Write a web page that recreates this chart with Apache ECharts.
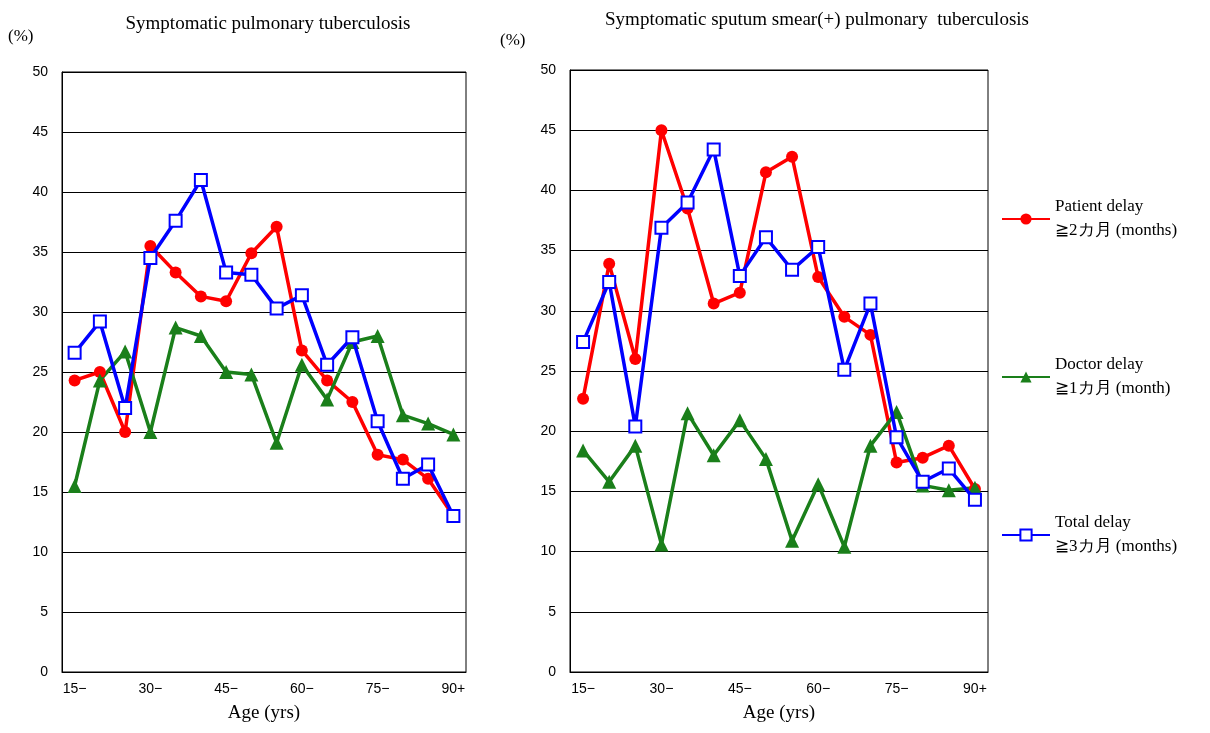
<!DOCTYPE html>
<html><head><meta charset="utf-8">
<script src="https://cdn.jsdelivr.net/npm/echarts@6/dist/echarts.min.js"></script>
<style>html,body{margin:0;padding:0;background:#fff}#c{width:1210px;height:733px}</style>
</head><body><div id="c"></div>
<script>
const categories=['15−','20−','25−','30−','35−','40−','45−','50−','55−','60−','65−','70−','75−','80−','85−','90+'];
const leftPatient=[24.3,25,20,35.5,33.3,31.3,30.9,34.9,37.1,26.8,24.3,22.5,18.1,17.7,16.1,13];
const leftDoctor=[15.5,24.3,26.7,20,28.7,28,25,24.8,19.1,25.6,22.7,27.5,28,21.4,20.7,19.8];
const leftTotal=[26.6,29.2,22,34.5,37.6,41,33.3,33.1,30.3,31.4,25.6,27.9,20.9,16.1,17.3,13];
const rightPatient=[22.7,33.9,26,45,38.5,30.6,31.5,41.5,42.8,32.8,29.5,28,17.4,17.8,18.8,15.2];
const rightDoctor=[18.4,15.8,18.8,10.6,21.5,18,20.9,17.7,10.9,15.6,10.4,18.8,21.6,15.5,15.1,15.3];
const rightTotal=[27.4,32.4,20.4,36.9,39,43.4,32.9,36.1,33.4,35.3,25.1,30.6,19.5,15.8,16.9,14.3];
const names=['Patient delay\n≧2カ月 (months)','Doctor delay\n≧1カ月 (month)','Total delay\n≧3カ月 (months)'];
const serif='"Liberation Serif","DejaVu Serif",serif';
const sans='"Liberation Sans",Arial,sans-serif';
function xa(i){return {type:'category',gridIndex:i,data:categories,boundaryGap:true,
 axisLine:{lineStyle:{color:'#000'}},axisTick:{show:false},
 axisLabel:{interval:2,color:'#000',fontFamily:sans,fontSize:14,margin:10},
 name:'Age (yrs)',nameLocation:'middle',nameGap:32,nameTextStyle:{fontFamily:serif,fontSize:19,color:'#000'}};}
function ya(i){return {type:'value',gridIndex:i,min:0,max:50,interval:5,
 axisLine:{show:true,lineStyle:{color:'#000'}},axisTick:{show:false},
 splitLine:{lineStyle:{color:'#000',width:1}},
 axisLabel:{color:'#000',fontFamily:sans,fontSize:14,margin:14}};}
function s(name,data,i,color,symbol,fill){return {name,type:'line',xAxisIndex:i,yAxisIndex:i,data,
 symbol,symbolSize:symbol==='triangle'?14:12,lineStyle:{color,width:3.5},
 itemStyle:{color:fill||color,borderColor:color,borderWidth:fill?2:0},z:fill?4:3};}
const chart=echarts.init(document.getElementById('c'));
chart.setOption({animation:false,
 grid:[{left:62,right:744,top:72,bottom:61,show:true,borderColor:'#000',borderWidth:1},
       {left:570,right:222,top:70,bottom:61,show:true,borderColor:'#000',borderWidth:1}],
 xAxis:[xa(0),xa(1)],yAxis:[ya(0),ya(1)],
 title:[{text:'Symptomatic pulmonary tuberculosis',left:263,textAlign:'center',top:10,textStyle:{fontFamily:serif,fontSize:19,fontWeight:'normal',color:'#000'}},
        {text:'Symptomatic sputum smear(+) pulmonary  tuberculosis',left:812,textAlign:'center',top:6,textStyle:{fontFamily:serif,fontSize:19,fontWeight:'normal',color:'#000'}}],
 graphic:[{type:'text',left:8,top:28,style:{text:'(%)',font:'17px '+serif,fill:'#000'}},
          {type:'text',left:500,top:32,style:{text:'(%)',font:'17px '+serif,fill:'#000'}}],
 legend:{orient:'vertical',left:996,top:190,itemGap:110,itemWidth:48,itemHeight:14,
   data:names,textStyle:{fontFamily:serif,fontSize:17,color:'#000',lineHeight:24}},
 series:[s(names[0],leftPatient,0,'#ff0000','circle'),s(names[1],leftDoctor,0,'#1a7f1a','triangle'),s(names[2],leftTotal,0,'#0000ff','rect','#fff'),
         s(names[0],rightPatient,1,'#ff0000','circle'),s(names[1],rightDoctor,1,'#1a7f1a','triangle'),s(names[2],rightTotal,1,'#0000ff','rect','#fff')]
});
</script></body></html>
